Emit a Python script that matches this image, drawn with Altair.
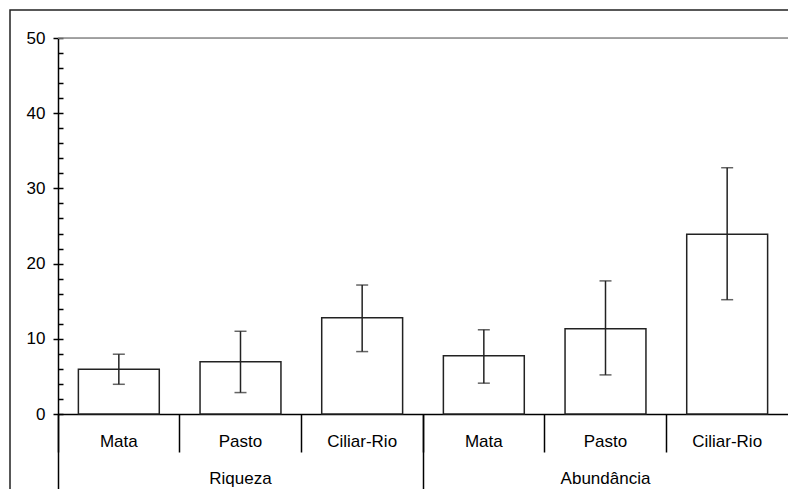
import altair as alt
import pandas as pd

groups = ["Riqueza", "Riqueza", "Riqueza", "Abundância", "Abundância", "Abundância"]
habitats = ["Mata", "Pasto", "Ciliar-Rio", "Mata", "Pasto", "Ciliar-Rio"]
means = [5.95, 6.95, 12.8, 7.75, 11.35, 23.9]
err_low = [3.95, 2.85, 8.3, 4.1, 5.2, 15.2]
err_high = [7.95, 11.0, 17.15, 11.2, 17.7, 32.75]
y_major = [0, 10, 20, 30, 40, 50]
y_minor = list(range(0, 51, 2))

keys = [f"{g}|{h}" for g, h in zip(groups, habitats)]
df = pd.DataFrame({"key": keys, "group": groups, "habitat": habitats,
                   "mean": means, "lo": err_low, "hi": err_high})

FONT = "Liberation Sans"
xscale = alt.Scale(domain=keys, paddingInner=0, paddingOuter=0)
yscale = alt.Scale(domain=[0, 50], nice=False)

base = alt.Chart(df)

bars = base.mark_bar(fill="white", stroke="#222", strokeWidth=1.5,
                     width={"band": 0.665}).encode(
    x=alt.X("key:N", scale=xscale, sort=keys, title=None,
            axis=alt.Axis(orient="bottom", labelExpr="split(datum.value, '|')[1]",
                          ticks=False, domain=True, domainColor="black", domainWidth=1.5,
                          labelAngle=0, labelFont=FONT, labelFontSize=17, labelColor="black",
                          labelPadding=19, grid=False)),
    y=alt.Y("mean:Q", scale=yscale, title=None,
            axis=alt.Axis(orient="left", values=y_major, tickSize=5, tickColor="black",
                          tickWidth=1.5, domainColor="black", domainWidth=1.5,
                          labelFont=FONT, labelFontSize=17, labelColor="black",
                          labelPadding=8, grid=False)),
)

err_rule = base.mark_rule(color="#222", strokeWidth=1.5).encode(
    x=alt.X("key:N", scale=xscale, sort=keys, title=None,
            axis=alt.Axis(orient="bottom", labels=False, domain=False, ticks=True,
                          bandPosition=0, tickSize=38, tickColor="black", tickWidth=1.5,
                          grid=False)),
    y=alt.Y("lo:Q", scale=yscale, title=None,
            axis=alt.Axis(orient="left", values=y_minor, offset=-5, tickSize=5,
                          tickColor="black", tickWidth=1.5, labels=False, domain=False,
                          grid=False)),
    y2="hi:Q",
)

cap_lo = base.mark_tick(color="#222", size=12, thickness=1.5, orient="horizontal").encode(
    x=alt.X("key:N", scale=xscale, sort=keys, title=None,
            axis=alt.Axis(orient="bottom", labels=False, domain=False, ticks=True,
                          values=["Riqueza|Mata", "Abundância|Mata"],
                          bandPosition=0, tickSize=76, tickColor="black", tickWidth=1.5,
                          grid=False)),
    y=alt.Y("lo:Q", scale=yscale, title=None, axis=None),
)

cap_hi = base.mark_tick(color="#222", size=12, thickness=1.5, orient="horizontal").encode(
    x=alt.X("key:N", scale=xscale, sort=keys, title=None,
            axis=alt.Axis(orient="bottom", labels=True, domain=False, ticks=False,
                          values=["Riqueza|Pasto", "Abundância|Pasto"],
                          labelExpr="split(datum.value, '|')[0]",
                          labelAngle=0, labelFont=FONT, labelFontSize=17, labelColor="black",
                          labelPadding=56, grid=False)),
    y=alt.Y("hi:Q", scale=yscale, title=None, axis=None),
)

grid50 = alt.Chart(pd.DataFrame({"v": [50]})).mark_rule(color="#888", strokeWidth=1.5).encode(
    y=alt.Y("v:Q", scale=yscale, axis=None),
)

frame = alt.Chart(pd.DataFrame({"a": [0]})).mark_rect(
    fill=None, stroke="#222", strokeWidth=1.5, clip=False
).encode(
    x=alt.value(-48), x2=alt.value(760), y=alt.value(-28), y2=alt.value(520),
)

chart = alt.layer(grid50, bars, err_rule, cap_lo, cap_hi, frame).resolve_axis(
    x="independent", y="independent"
).properties(
    width=730, height=376,
    padding={"left": 50, "top": 30, "right": 0, "bottom": 75},
    autosize=alt.AutoSizeParams(type="none"),
).configure_view(stroke=None).configure(background="white")

chart.save("out.html", embed_options={"renderer": "svg", "actions": False})
